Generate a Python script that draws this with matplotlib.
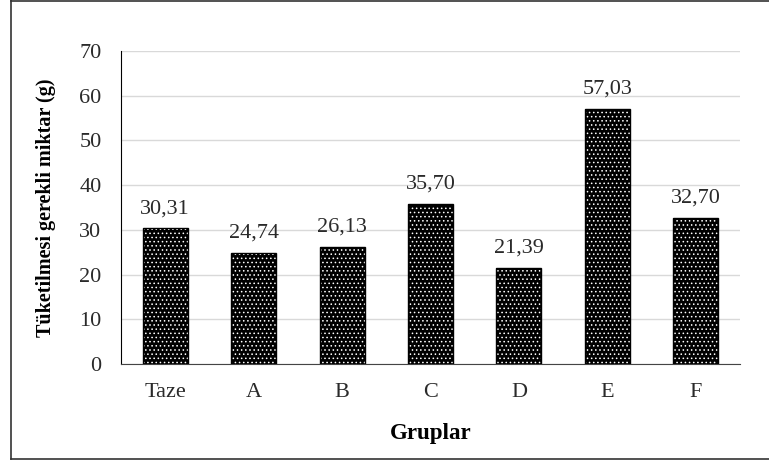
import matplotlib
matplotlib.use("Agg")
import matplotlib.pyplot as plt
from matplotlib.lines import Line2D

# data
groups = ["Taze", "A", "B", "C", "D", "E", "F"]
values = [30.31, 24.74, 26.13, 35.70, 21.39, 57.03, 32.70]
value_labels = ["30,31", "24,74", "26,13", "35,70", "21,39", "57,03", "32,70"]
yticks = [0, 10, 20, 30, 40, 50, 60, 70]

plt.rcParams["font.family"] = ["Liberation Serif", "DejaVu Serif"]
plt.rcParams["hatch.linewidth"] = 0.6

fig = plt.figure(figsize=(7.69, 4.63), dpi=100)
ax = fig.add_axes([0.1573, 0.2138, 0.805, 0.676])

x = list(range(len(groups)))
# black bars with white dot pattern, then a black outline on top
ax.bar(x, values, width=0.51, color="black", edgecolor="white",
       linewidth=0, hatch="....", zorder=2)
ax.bar(x, values, width=0.51, fill=False, edgecolor="black",
       linewidth=1, zorder=3)

for xi, v, lab in zip(x, values, value_labels):
    ax.annotate(lab, (xi, v), xytext=(0, 7.5), textcoords="offset points",
                ha="center", va="bottom", fontsize=16, color="#2a2a2a")

ax.set_xlim(-0.5, len(groups) - 0.5)
ax.set_ylim(0, 70)
ax.set_yticks(yticks)
ax.set_xticks(x)
ax.set_xticklabels(groups)
ax.tick_params(axis="both", length=0, labelsize=16, colors="#2a2a2a")
ax.tick_params(axis="x", pad=14)
ax.tick_params(axis="y", pad=14)

ax.grid(axis="y", color="#d9d9d9", linewidth=1, zorder=0)
ax.set_axisbelow(True)
for s in ["top", "right"]:
    ax.spines[s].set_visible(False)
ax.spines["left"].set_color("black")
ax.spines["bottom"].set_color("#444444")

ax.set_ylabel("Tüketilmesi gerekli miktar (g)", fontsize=14.5,
              fontweight="bold", labelpad=17)
ax.set_xlabel("Gruplar", fontsize=16.5, fontweight="bold", labelpad=15)

# outer frame (top, left, bottom)
frame_kw = dict(transform=fig.transFigure, color="#333333", linewidth=1.2)
fig.add_artist(Line2D([0.014, 0.014], [0.009, 1.0], **frame_kw))
fig.add_artist(Line2D([0.014, 1.0], [0.998, 0.998], **frame_kw))
fig.add_artist(Line2D([0.014, 1.0], [0.009, 0.009], **frame_kw))

fig.savefig("out.png", dpi=100)
